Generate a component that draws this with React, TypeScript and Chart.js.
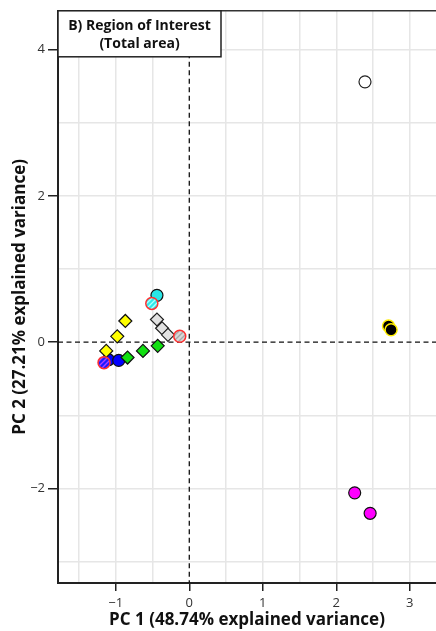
import React, { useEffect, useRef } from 'react';
import { Chart, registerables } from 'chart.js';

Chart.register(...registerables);

// ---- Text ----
const xAxisTitle = 'PC 1 (48.74% explained variance)';
const yAxisTitle = 'PC 2 (27.21% explained variance)';
const panelTitle = ['B) Region of Interest', '(Total area)'];

// ---- Axes ----
const xRange = [-1.786, 3.356];
const yRange = [-3.293, 4.531];
const xLabelled = [-1, 0, 1, 2, 3];
const yLabelled = [-2, 0, 2, 4];

// ---- Data: [PC1, PC2] ----
const whiteOpen = [[2.39, 3.56]];
const blackYellow = [[2.71, 0.22], [2.745, 0.17]];
const magentaPts = [[2.25, -2.06], [2.46, -2.34]];
const cyanSolid = [[-0.44, 0.64]];
const cyanHatched = [[-0.51, 0.53]];
const yellowDiamonds = [[-0.87, 0.29], [-0.98, 0.08], [-1.13, -0.12]];
const greyDiamonds = [[-0.44, 0.31], [-0.37, 0.19], [-0.29, 0.1]];
const greyHatched = [[-0.13, 0.08]];
const greenDiamonds = [[-0.43, -0.05], [-0.63, -0.12], [-0.84, -0.21]];
const blueSolid = [[-1.1, -0.24], [-0.96, -0.25]];
const blueHatched = [[-1.16, -0.28]];

const toXY = (arr: number[][]) => arr.map(([x, y]) => ({ x, y }));
const fmt = (v: number) => (v < 0 ? '\u2212' + Math.abs(v) : String(v));
const CLEAR = 'rgba(0,0,0,0)';

function makeHatch(base: string, stripe: string): any {
  const c = document.createElement('canvas');
  c.width = 5;
  c.height = 5;
  const g = c.getContext('2d');
  if (!g) return base;
  g.fillStyle = base;
  g.fillRect(0, 0, 5, 5);
  g.strokeStyle = stripe;
  g.lineWidth = 1.3;
  g.beginPath();
  g.moveTo(0, 5); g.lineTo(5, 0);
  g.moveTo(-2.5, 2.5); g.lineTo(2.5, -2.5);
  g.moveTo(2.5, 7.5); g.lineTo(7.5, 2.5);
  g.stroke();
  return g.createPattern(c, 'repeat') || base;
}

const refLines = {
  id: 'refLines',
  beforeDatasetsDraw(chart: any) {
    const { ctx, chartArea: a, scales } = chart;
    const x0 = scales.x.getPixelForValue(0);
    const y0 = scales.y.getPixelForValue(0);
    ctx.save();
    ctx.strokeStyle = '#111';
    ctx.lineWidth = 1.3;
    ctx.setLineDash([5, 3.5]);
    ctx.beginPath();
    ctx.moveTo(x0, a.top);
    ctx.lineTo(x0, a.bottom);
    ctx.moveTo(a.left, y0);
    ctx.lineTo(a.right, y0);
    ctx.stroke();
    ctx.restore();
  },
};

const panelBox = {
  id: 'panelBox',
  afterDraw(chart: any) {
    const { ctx, chartArea: a } = chart;
    ctx.save();
    // top frame line
    ctx.strokeStyle = '#333';
    ctx.lineWidth = 1.5;
    ctx.beginPath();
    ctx.moveTo(a.left, a.top);
    ctx.lineTo(a.right, a.top);
    ctx.stroke();
    const w = 163;
    const h = 46;
    ctx.fillStyle = '#fff';
    ctx.fillRect(a.left, a.top, w, h);
    ctx.strokeStyle = '#222';
    ctx.lineWidth = 1.5;
    ctx.strokeRect(a.left, a.top, w, h);
    ctx.fillStyle = '#111';
    ctx.font = 'bold 14px "Open Sans"';
    ctx.textAlign = 'center';
    ctx.textBaseline = 'middle';
    ctx.fillText(panelTitle[0], a.left + w / 2, a.top + 15);
    ctx.fillText(panelTitle[1], a.left + w / 2, a.top + 33);
    ctx.restore();
  },
};

export default function App() {
  const ref = useRef<HTMLCanvasElement | null>(null);

  useEffect(() => {
    document.body.style.margin = '0';
    const canvas = ref.current;
    if (!canvas) return;

    const pt = (data: number[][], style: 'circle' | 'rectRot', fill: any, border: string, radius: number, bw = 1.2, order = 0) => ({
      data: toXY(data),
      pointStyle: style,
      pointRadius: radius,
      pointHoverRadius: radius,
      pointBackgroundColor: fill,
      pointBorderColor: border,
      pointBorderWidth: bw,
      pointHoverBorderWidth: bw,
      showLine: false,
      order,
    });

    const chart = new Chart(canvas, {
      type: 'scatter',
      data: {
        datasets: [
          pt(blueHatched, 'circle', makeHatch('#1a1aff', '#b040ff'), '#ff3030', 6, 1.5, 0),
          pt(cyanHatched, 'circle', makeHatch('#30e8e8', '#b0ffff'), '#ff3030', 6, 1.5, 0),
          pt(greyHatched, 'circle', makeHatch('#d8d8d8', '#a8a8a8'), '#ff3030', 6, 1.5, 0),
          pt(greenDiamonds, 'rectRot', '#11e011', '#111', 6.5, 1.2, 1),
          pt(blueSolid, 'circle', '#0000ff', '#111', 6, 1.2, 2),
          pt(yellowDiamonds, 'rectRot', '#ffff00', '#111', 6.5, 1.2, 1),
          pt(greyDiamonds, 'rectRot', '#e2e2e2', '#222', 6.5, 1.2, 1),
          pt(cyanSolid, 'circle', '#2ae6e6', '#111', 6, 1.2, 2),
          pt(blackYellow, 'circle', '#000000', '#ffee00', 6, 1.5, 1),
          pt(magentaPts, 'circle', '#ff00ff', '#111', 6, 1.2, 1),
          pt(whiteOpen, 'circle', '#ffffff', '#222', 6, 1.2, 1),
        ],
      },
      options: {
        responsive: false,
        animation: false,
        devicePixelRatio: 1,
        layout: { padding: { top: 8, left: 0, right: 0, bottom: 0 }, autoPadding: false },
        plugins: { legend: { display: false }, tooltip: { enabled: false } },
        events: [],
        scales: {
          x: {
            type: 'linear',
            min: xRange[0],
            max: xRange[1],
            afterFit: (s: any) => { s.height = 48; },
            ticks: {
              stepSize: 0.5,
              includeBounds: false,
              autoSkip: false,
              maxRotation: 0,
              padding: 4,
              color: '#333',
              font: { family: 'Open Sans', size: 13 },
              callback: (v: any) => (xLabelled.includes(Number(v)) ? fmt(Number(v)) : ''),
            },
            grid: {
              color: (c: any) => (c.tick && c.tick.value === 0 ? CLEAR : '#e6e6e6'),
              lineWidth: 1.5,
              tickLength: 8,
              tickWidth: 1.5,
              tickColor: (c: any) => (c.tick && xLabelled.includes(c.tick.value) ? '#222' : CLEAR),
            },
            border: { color: '#222', width: 2 },
            title: {
              display: true,
              text: xAxisTitle,
              color: '#111',
              font: { family: 'Open Sans', size: 17, weight: 'bold' },
              padding: { top: 0, bottom: 1 },
            },
          },
          y: {
            type: 'linear',
            min: yRange[0],
            max: yRange[1],
            afterFit: (s: any) => { s.width = 58; },
            ticks: {
              stepSize: 1,
              includeBounds: false,
              autoSkip: false,
              padding: 3,
              color: '#333',
              font: { family: 'Open Sans', size: 13 },
              callback: (v: any) => (yLabelled.includes(Number(v)) ? fmt(Number(v)) : ''),
            },
            grid: {
              color: (c: any) => (c.tick && c.tick.value === 0 ? CLEAR : '#e6e6e6'),
              lineWidth: 1.5,
              tickLength: 10,
              tickWidth: 1.5,
              tickColor: (c: any) => (c.tick && yLabelled.includes(c.tick.value) ? '#222' : CLEAR),
            },
            border: { color: '#222', width: 2 },
            title: {
              display: true,
              text: yAxisTitle,
              color: '#111',
              font: { family: 'Open Sans', size: 17, weight: 'bold' },
              padding: { top: 10, bottom: 0 },
            },
          },
        },
      },
      plugins: [refLines, panelBox],
    } as any);

    return () => chart.destroy();
  }, []);

  return (
    <div style={{ width: 436, height: 631 }}>
      <canvas ref={ref} width={436} height={631} style={{ display: 'block' }} />
    </div>
  );
}
